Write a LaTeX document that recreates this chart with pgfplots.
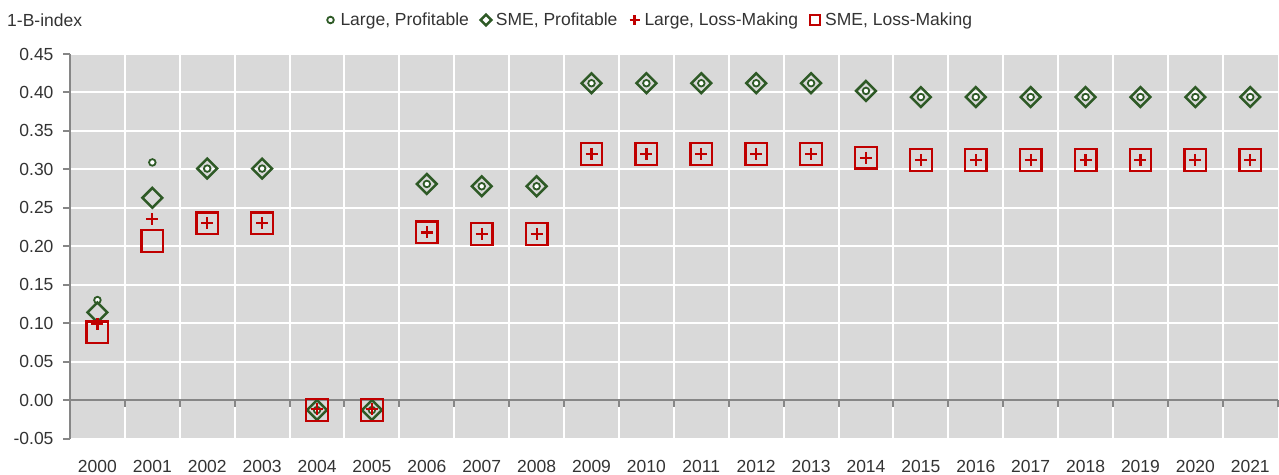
\documentclass[border=0pt]{standalone}
\usepackage{pgfplots}
\pgfplotsset{compat=1.18}
\usepackage{fontspec}
\setmainfont{Liberation Sans}
\definecolor{bggray}{HTML}{D9D9D9}
\definecolor{axgray}{HTML}{868686}
\definecolor{dgreen}{HTML}{2E5A26}
\definecolor{dred}{HTML}{C00000}
\definecolor{txt}{HTML}{333333}
\begin{document}
\begin{tikzpicture}[font=\fontsize{17.5pt}{21pt}\selectfont, text=txt]
\path[use as bounding box] (0,0) rectangle (1279pt,474pt);
\node[anchor=west, inner sep=0pt] at (7pt,454pt) {1-B-index};
\begin{axis}[
  at={(70pt,35.5pt)}, anchor=south west,
  width=1207.7pt, height=384.5pt, scale only axis,
  xmin=-0.5, xmax=21.5, ymin=-0.05, ymax=0.45,
  xtick={0,...,21},
  xticklabels={2000,2001,2002,2003,2004,2005,2006,2007,2008,2009,2010,2011,2012,2013,2014,2015,2016,2017,2018,2019,2020,2021},
  minor xtick={0.5,1.5,...,20.5},
  ytick={-0.05,0,0.05,0.1,0.15,0.2,0.25,0.3,0.35,0.4,0.45},
  yticklabel style={xshift=-6pt, /pgf/number format/.cd, fixed, fixed zerofill, precision=2, assume math mode=true},
  xticklabel style={yshift=-11pt},
  axis line style={draw=none},
  axis background/.style={fill=bggray},
  ymajorgrids, xminorgrids,
  grid style={white, line width=2pt},
  minor grid style={white, line width=2pt},
  major grid style={white, line width=2pt},
  tick align=outside,
  ytick pos=left,
  major tick length=7pt, minor tick length=0pt,
  ytick style={axgray, line width=2pt},
  xtick style={draw=none},
  clip=false,
  legend columns=4,
  legend style={at={(0.4780,1.0884)}, anchor=center, draw=none, fill=none, inner sep=0pt,
    /tikz/every even column/.append style={column sep=5pt}},
  legend cell align=left,
  legend image code/.code={\path[draw=none,fill=none] (-10pt,0pt) (8pt,0pt); \draw[#1] plot[only marks] coordinates {(0pt,0pt)};},
]
\draw[axgray, line width=2pt] (axis cs:-0.5,0) -- (axis cs:21.5,0);
\pgfplotsinvokeforeach{0.5,1.5,2.5,3.5,4.5,5.5,6.5,7.5,8.5,9.5,10.5,11.5,12.5,13.5,14.5,15.5,16.5,17.5,18.5,19.5,20.5,21.5}{
  \draw[axgray, line width=2pt] (axis cs:#1,0) -- ++(0pt,-7pt);
}
\draw[axgray, line width=2pt] (rel axis cs:0,0) -- (rel axis cs:0,1);

\addplot[only marks, mark=*, mark size=3.3pt, dgreen, line width=1.8pt, mark options={fill=white},
  legend image post style={mark size=3.3pt}]
 coordinates {(0,0.130)(1,0.309)(2,0.301)(3,0.301)(4,-0.013)(5,-0.013)(6,0.281)(7,0.278)(8,0.278)(9,0.412)(10,0.412)(11,0.412)(12,0.412)(13,0.412)(14,0.402)(15,0.394)(16,0.394)(17,0.394)(18,0.394)(19,0.394)(20,0.394)(21,0.394)};
\addlegendentry{Large, Profitable}
\addplot[only marks, mark=square, mark size=7pt, dgreen, line width=2.5pt, mark options={rotate=45},
  legend image post style={mark size=3.8pt}]
 coordinates {(0,0.114)(1,0.263)(2,0.301)(3,0.301)(4,-0.013)(5,-0.013)(6,0.281)(7,0.278)(8,0.278)(9,0.412)(10,0.412)(11,0.412)(12,0.412)(13,0.412)(14,0.402)(15,0.394)(16,0.394)(17,0.394)(18,0.394)(19,0.394)(20,0.394)(21,0.394)};
\addlegendentry{SME, Profitable}
\addplot[only marks, mark=+, mark size=6pt, dred, line width=2.2pt,
  legend image post style={mark size=5pt}]
 coordinates {(0,0.099)(1,0.235)(2,0.230)(3,0.230)(4,-0.012)(5,-0.012)(6,0.218)(7,0.216)(8,0.216)(9,0.320)(10,0.320)(11,0.320)(12,0.320)(13,0.320)(14,0.315)(15,0.312)(16,0.312)(17,0.312)(18,0.312)(19,0.312)(20,0.312)(21,0.312)};
\addlegendentry{Large, Loss-Making}
\addplot[only marks, mark=square, mark size=10.8pt, dred, line width=2.3pt,
  legend image post style={mark size=5pt}]
 coordinates {(0,0.088)(1,0.207)(2,0.230)(3,0.230)(4,-0.013)(5,-0.013)(6,0.218)(7,0.216)(8,0.216)(9,0.320)(10,0.320)(11,0.320)(12,0.320)(13,0.320)(14,0.315)(15,0.312)(16,0.312)(17,0.312)(18,0.312)(19,0.312)(20,0.312)(21,0.312)};
\addlegendentry{SME, Loss-Making}
\end{axis}
\end{tikzpicture}
\end{document}
